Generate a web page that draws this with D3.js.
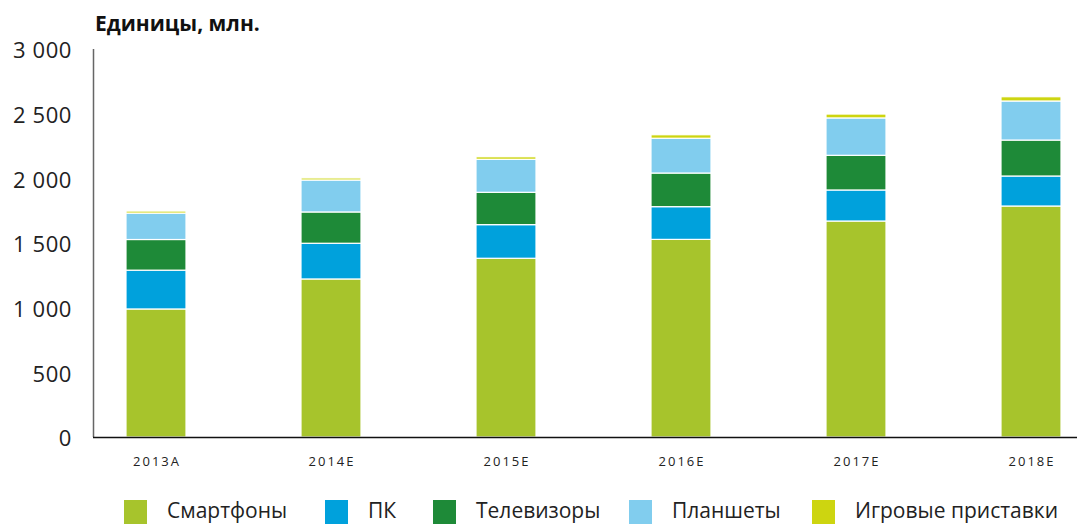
<!DOCTYPE html>
<html>
  <head>
    <meta charset="utf-8" />
    <title>Единицы, млн.</title>
    <script src="https://d3js.org/d3.v7.min.js"></script>
    <style>
      body {
        margin: 0;
        font-family: "Open Sans", sans-serif;
        background: #fff;
      }
      svg {
        display: block;
      }
    </style>
  </head>
  <body>
    <svg width="1084" height="524"></svg>

    <script>
      const years = ["2013A", "2014E", "2015E", "2016E", "2017E", "2018E"];
      const seriesNames = ["Смартфоны", "ПК", "Телевизоры", "Планшеты", "Игровые приставки"];
      const colors = ["#a7c42c", "#00a1dc", "#1e8a38", "#81cdee", "#cdd510"];

      const smartphones = [990, 1222, 1382, 1528, 1670, 1786];
      const pcs = [300, 276, 260, 253, 240, 232];
      const tvs = [237, 242, 250, 260, 268, 278];
      const tablets = [204, 247, 255, 269, 289, 302];
      const consoles = [16, 16, 20, 27, 30, 33];

      const yTicks = [0, 500, 1000, 1500, 2000, 2500, 3000];

      const svg = d3.select("svg");

      const data = years.map((y, i) => ({
        year: y,
        s0: smartphones[i], s1: pcs[i], s2: tvs[i], s3: tablets[i], s4: consoles[i]
      }));
      const keys = ["s0", "s1", "s2", "s3", "s4"];
      const stacked = d3.stack().keys(keys)(data);

      const x = d3.scalePoint().domain(years).range([156, 1031]);
      const y = d3.scaleLinear().domain([0, 3000]).range([437, 49]);
      const barW = 60;

      // title
      svg.append("text")
        .attr("x", 95).attr("y", 31)
        .attr("font-size", 21).attr("font-weight", 700).attr("fill", "#111")
        .text("Единицы, млн.");

      // y tick labels
      svg.append("g").selectAll("text").data(yTicks).join("text")
        .attr("x", 72).attr("y", d => y(d) + 1)
        .attr("dy", "0.38em")
        .attr("text-anchor", "end")
        .attr("font-size", 22).attr("letter-spacing", 0.6).attr("fill", "#222")
        .text(d => d3.format(",")(d).replace(",", " "));

      // bars
      svg.append("g").selectAll("g").data(stacked).join("g")
        .attr("fill", (d, i) => colors[i])
        .selectAll("rect").data(d => d).join("rect")
        .attr("x", d => x(d.data.year) - barW / 2)
        .attr("width", barW)
        .attr("y", d => y(d[1]))
        .attr("height", d => y(d[0]) - y(d[1]))
        .attr("stroke", "#fff").attr("stroke-width", 1.2);

      // axis lines
      svg.append("line")
        .attr("x1", 93.5).attr("x2", 93.5).attr("y1", 49).attr("y2", 437)
        .attr("stroke", "#666").attr("stroke-width", 1.5);
      svg.append("line")
        .attr("x1", 93).attr("x2", 1077).attr("y1", 437.5).attr("y2", 437.5)
        .attr("stroke", "#111").attr("stroke-width", 1.5);

      // x labels
      svg.append("g").selectAll("text").data(years).join("text")
        .attr("x", d => x(d) + 1).attr("y", 466)
        .attr("text-anchor", "middle")
        .attr("font-size", 13).attr("letter-spacing", 2).attr("fill", "#222")
        .text(d => d);

      // legend
      const legendSq = [124, 325, 433, 629, 812];
      const legend = svg.append("g").selectAll("g").data(seriesNames).join("g")
        .attr("transform", (d, i) => `translate(${legendSq[i]},500)`);
      legend.append("rect")
        .attr("width", 23).attr("height", 24)
        .attr("fill", (d, i) => colors[i]);
      legend.append("text")
        .attr("x", 43).attr("y", 18)
        .attr("font-size", 21).attr("fill", "#222")
        .text(d => d);
    </script>
  </body>
</html>
